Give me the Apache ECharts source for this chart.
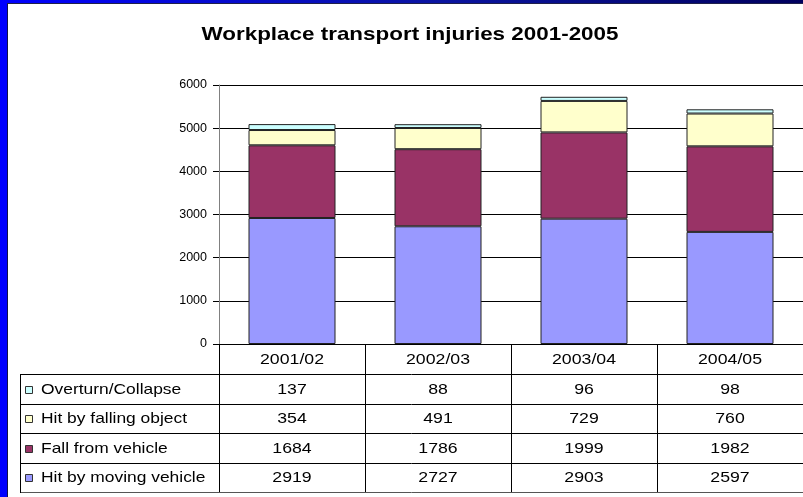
<!DOCTYPE html>
<html><head><meta charset="utf-8">
<script src="https://cdn.jsdelivr.net/npm/echarts@6/dist/echarts.min.js"></script>
<style>html,body{margin:0;padding:0;background:#fff}#c{width:803px;height:497px}</style>
</head><body><div id="c"></div>
<script>
const categories = ['2001/02', '2002/03', '2003/04', '2004/05'];
const hitByMovingVehicle = [2919, 2727, 2903, 2597];
const fallFromVehicle = [1684, 1786, 1999, 1982];
const hitByFallingObject = [354, 491, 729, 760];
const overturnCollapse = [137, 88, 96, 98];
const seriesNames = ['Hit by moving vehicle', 'Fall from vehicle', 'Hit by falling object', 'Overturn/Collapse'];
const seriesColors = ['#9999FF', '#993366', '#FFFFCC', '#CCFFFF'];
const titleText = 'Workplace transport injuries 2001-2005';

const FONT = "'Liberation Sans', Arial, sans-serif";
const seriesData = [hitByMovingVehicle, fallFromVehicle, hitByFallingObject, overturnCollapse];

const chart = echarts.init(document.getElementById('c'), null, {renderer: 'canvas'});
const option = {
  backgroundColor: '#ffffff',
  animation: false,
  textStyle: {fontFamily: FONT},
  grid: {left: 219, top: 85, width: 590, height: 259, containLabel: false},
  xAxis: {
    type: 'category',
    data: categories,
    boundaryGap: true,
    axisLine: {show: true, lineStyle: {color: '#000', width: 1}},
    axisTick: {show: true, length: 148, interval: 0, alignWithLabel: false, lineStyle: {color: '#000', width: 1}},
    axisLabel: {show: false},
    splitLine: {show: false}
  },
  yAxis: {
    type: 'value',
    min: 0, max: 6000, interval: 1000,
    axisLine: {show: true, lineStyle: {color: '#808080', width: 1}},
    axisTick: {show: true, length: 6, lineStyle: {color: '#000', width: 1}},
    axisLabel: {color: '#000', fontSize: 12.5, margin: 12, fontFamily: FONT, formatter: v => String(v)},
    splitLine: {show: true, lineStyle: {color: '#000', width: 1}}
  },
  series: seriesNames.map((name, i) => ({
    name: name,
    type: 'bar',
    stack: 'total',
    barWidth: 87,
    data: seriesData[i],
    itemStyle: {color: seriesColors[i], borderColor: '#222', borderWidth: 1}
  }))
};
chart.setOption(option);

// Table built from the data arrays, positioned via the chart's own x scale
const xs = categories.map(c => chart.convertToPixel({xAxisIndex: 0}, c));
const headerY = 359.5;
const rowTops = [374, 404, 433, 463, 492];
const leftX = 20;
const SX = 1.18;
const g = [];

// frame
g.push({type: 'rect', shape: {x: 0, y: 0, width: 7, height: 497}, style: {fill: '#0000ff'}, z: 100});
g.push({type: 'rect', shape: {x: 7, y: 3, width: 1, height: 494}, style: {fill: '#10104a'}, z: 100});
g.push({type: 'rect', shape: {x: 0, y: 0, width: 803, height: 3}, style: {fill: new echarts.graphic.LinearGradient(0, 0, 1, 0, [{offset: 0, color: '#0000ff'}, {offset: 0.55, color: '#0a14a0'}, {offset: 1, color: '#00005e'}])}, z: 100});
g.push({type: 'rect', shape: {x: 7, y: 3, width: 796, height: 1}, style: {fill: '#20204a'}, z: 100});

// title
g.push({type: 'text', x: 410, y: 35, scaleX: 1.18, style: {text: titleText, fontFamily: FONT, fontSize: 19, fontWeight: 'bold', fill: '#000', align: 'center', verticalAlign: 'middle'}});

// header labels
categories.forEach((c, i) => {
  g.push({type: 'text', x: xs[i], y: headerY, scaleX: SX, style: {text: c, fontFamily: FONT, fontSize: 15, fill: '#000', align: 'center', verticalAlign: 'middle'}});
});

// horizontal row lines
rowTops.forEach((y, k) => {
  g.push({type: 'line', shape: {x1: leftX, y1: y + 0.5, x2: 803, y2: y + 0.5}, style: {stroke: k === rowTops.length - 1 ? '#555' : '#000', lineWidth: 1}});
});
g.push({type: 'line', shape: {x1: leftX + 0.5, y1: rowTops[0], x2: leftX + 0.5, y2: rowTops[rowTops.length - 1] + 1}, style: {stroke: '#000', lineWidth: 1}});

// rows: top row is last series
for (let r = 0; r < seriesNames.length; r++) {
  const si = seriesNames.length - 1 - r;
  const cy = (rowTops[r] + rowTops[r + 1]) / 2 + 0.5;
  g.push({type: 'rect', shape: {x: 25.5, y: Math.round(cy - 4) + 0.5, width: 7, height: 7}, style: {fill: seriesColors[si], stroke: '#333', lineWidth: 1}});
  g.push({type: 'text', x: 41, y: cy, scaleX: 1.16, style: {text: seriesNames[si], fontFamily: FONT, fontSize: 15, fill: '#000', align: 'left', verticalAlign: 'middle'}});
  seriesData[si].forEach((v, i) => {
    g.push({type: 'text', x: xs[i], y: cy, scaleX: SX, style: {text: String(v), fontFamily: FONT, fontSize: 15, fill: '#000', align: 'center', verticalAlign: 'middle'}});
  });
}
chart.setOption({graphic: g});
</script>
</body></html>
